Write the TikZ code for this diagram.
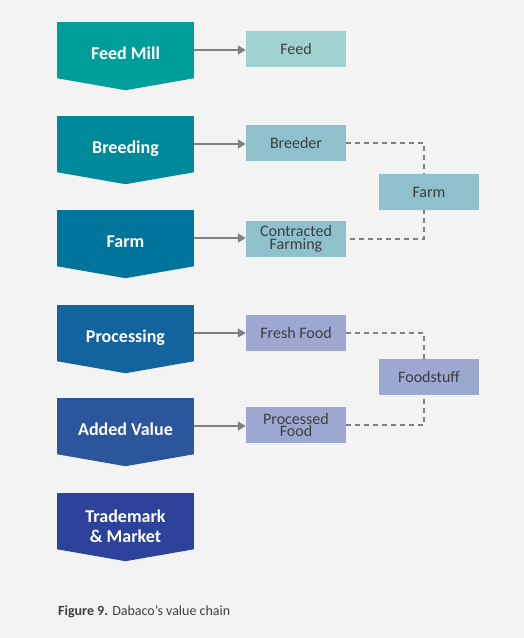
\documentclass[tikz,border=0pt]{standalone}
\usepackage{fontspec}
\setmainfont{Carlito}
\usepackage{xcolor}
\usepackage{tikz}
\usetikzlibrary{positioning,arrows.meta,calc}

\definecolor{bgGray}{RGB}{243,243,243}
\definecolor{textGray}{RGB}{62,62,62}
\definecolor{arrowGray}{RGB}{128,128,128}
\definecolor{millTeal}{RGB}{0,158,154}
\definecolor{breedTeal}{RGB}{0,137,155}
\definecolor{farmTeal}{RGB}{0,117,155}
\definecolor{procBlue}{RGB}{18,99,158}
\definecolor{addBlue}{RGB}{44,86,156}
\definecolor{markBlue}{RGB}{45,67,155}
\definecolor{feedBox}{RGB}{161,210,208}
\definecolor{farmBox}{RGB}{143,193,205}
\definecolor{foodBox}{RGB}{156,168,208}

\tikzset{
  stage/.style={fill=#1, text=white, font=\fontsize{18}{20}\selectfont\bfseries,
    minimum width=137pt, minimum height=56pt, inner sep=0pt, align=center,
    text height=18.6pt, text depth=0pt},
  product/.style={fill=#1, text=textGray, font=\fontsize{16}{12.5}\selectfont,
    minimum width=100pt, minimum height=36pt, inner sep=0pt, align=center},
  link/.style={draw=arrowGray, line width=1.2pt, -{Triangle[length=8pt,width=9pt]}},
  group/.style={draw=arrowGray, line width=1.2pt, dash pattern=on 5pt off 4pt}
}

\begin{document}
\begin{tikzpicture}[x=1pt, y=-1pt]

% Background
\fill[bgGray] (0,0) rectangle (524,638);

% Value chain stages
\node[stage=millTeal]  (mill)    at (125.5,50)  {Feed Mill};
\node[stage=breedTeal] (breed)   at (125.5,144) {Breeding};
\node[stage=farmTeal]  (farm)    at (125.5,238) {Farm};
\node[stage=procBlue]  (proc)    at (125.5,333) {Processing};
\node[stage=addBlue]   (added)   at (125.5,426) {Added Value};
\node[stage=markBlue, text height=43.4pt] (market) at (125.5,521) {Trademark\\\& Market};

% Chevron tips
\foreach \n/\c in {mill/millTeal, breed/breedTeal, farm/farmTeal,
                   proc/procBlue, added/addBlue, market/markBlue} {
    \fill[\c] (\n.south west) -- (\n.south east) -- ($(\n.south)+(0,12)$) -- cycle;
}

% Products
\node[product=feedBox] (feed)     at (296,48.5) {Feed};
\node[product=farmBox] (breeder)  at (296,143)  {Breeder};
\node[product=farmBox] (contract) at (296,239)  {Contracted\\Farming};
\node[product=foodBox] (fresh)    at (296,333)  {Fresh Food};
\node[product=foodBox] (processed) at (296,425) {Processed\\Food};

% Arrows
\draw[link] (mill.east)  -- (mill.east -| feed.west);
\draw[link] (breed.east) -- (breed.east -| breeder.west);
\draw[link] (farm.east)  -- (farm.east -| contract.west);
\draw[link] (proc.east)  -- (proc.east -| fresh.west);
\draw[link] (added.east) -- (added.east -| processed.west);

% Groupings
\coordinate (farmJoin) at (424,192);
\coordinate (foodJoin) at (424,377);
\draw[group] (breeder.east) -| (farmJoin) |- (contract.east);
\draw[group] (fresh.east) -| (foodJoin) |- (processed.east);
\node[product=farmBox] (farmGroup) at (429,192) {Farm};
\node[product=foodBox] (foodGroup) at (429,377) {Foodstuff};

% Caption
\node[anchor=west, text=textGray, font=\fontsize{14}{16}\selectfont, inner sep=0pt]
    (caption) at (58,612) {\textbf{Figure 9.} Dabaco’s value chain};

\end{tikzpicture}
\end{document}
